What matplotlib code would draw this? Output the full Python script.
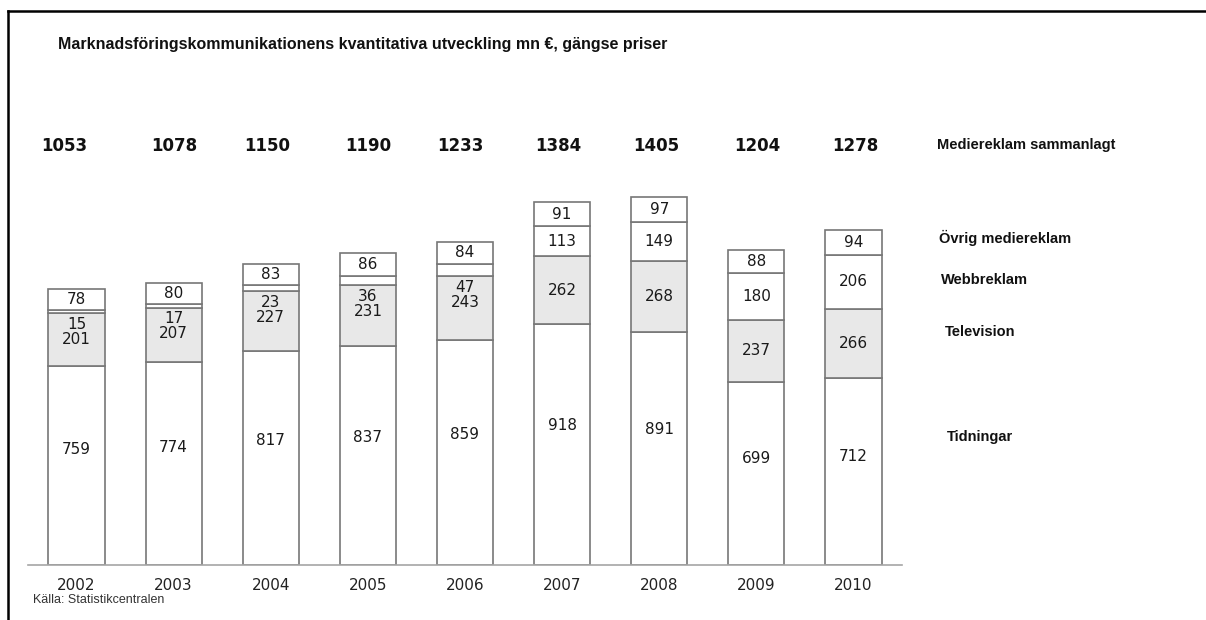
import matplotlib
matplotlib.use("Agg")
import matplotlib.pyplot as plt
import matplotlib.transforms as mtransforms
from matplotlib.lines import Line2D
import numpy as np

# data (mn EUR)
years = ["2002", "2003", "2004", "2005", "2006", "2007", "2008", "2009", "2010"]
tidningar = [759, 774, 817, 837, 859, 918, 891, 699, 712]
television = [201, 207, 227, 231, 243, 262, 268, 237, 266]
webbreklam = [15, 17, 23, 36, 47, 113, 149, 180, 206]
ovrig = [78, 80, 83, 86, 84, 91, 97, 88, 94]
totals = [1053, 1078, 1150, 1190, 1233, 1384, 1405, 1204, 1278]

series_names = ["Tidningar", "Television", "Webbreklam", "Övrig mediereklam"]
total_name = "Mediereklam sammanlagt"
title = "Marknadsföringskommunikationens kvantitativa utveckling mn €, gängse priser"
source = "Källa: Statistikcentralen"

# the totals in the original are not quite centred over the bars (pixels)
total_shift = [-12, 1, -4, 0, -5, -4, -3, 1, 2]

W, H = 1206, 620
fig = plt.figure(figsize=(W / 100, H / 100), dpi=100)
fig.patch.set_facecolor("white")

# axes placed in pixel terms: baseline at y=565, x from 28 to 902
ax = fig.add_axes([28 / W, 55 / H, 874 / W, 554 / H])
ymax = 554 / 0.262
ax.set_xlim(-0.5, len(years) - 0.5)
ax.set_ylim(0, ymax)

x = np.arange(len(years))
edge = "#777777"
bw = 0.58
tid = np.array(tidningar)
tv = np.array(television)
web = np.array(webbreklam)
ov = np.array(ovrig)

ax.bar(x, tid, bw, color="white", edgecolor=edge, linewidth=1.2)
ax.bar(x, tv, bw, bottom=tid, color="#e8e8e8", edgecolor=edge, linewidth=1.2)
ax.bar(x, web, bw, bottom=tid + tv, color="white", edgecolor=edge, linewidth=1.2)
ax.bar(x, ov, bw, bottom=tid + tv + web, color="white", edgecolor=edge, linewidth=1.2)

num_font = dict(family="DejaVu Sans", fontsize=11, color="#1a1a1a", ha="center", va="center")
px = 1 / 0.262  # data units per pixel

for i in range(len(years)):
    ax.text(x[i], tid[i] * 0.58, str(tid[i]), **num_font)
    top_tv = tid[i] + tv[i]
    if web[i] < 60:
        # small web share: both numbers stacked at top of tv block
        ax.text(x[i], top_tv - 11 * px, str(web[i]), **num_font)
        ax.text(x[i], top_tv - 26 * px, str(tv[i]), **num_font)
    else:
        ax.text(x[i], tid[i] + tv[i] / 2, str(tv[i]), **num_font)
        ax.text(x[i], top_tv + web[i] / 2, str(web[i]), **num_font)
    ax.text(x[i], top_tv + web[i] + ov[i] / 2, str(ov[i]), **num_font)

# totals row above bars
trans = mtransforms.blended_transform_factory(ax.transData, fig.transFigure)
xunit = 874 / len(years)  # pixels per category
for i, t in enumerate(totals):
    ax.text(x[i] + total_shift[i] / xunit, 1 - 146 / H, str(t), transform=trans,
            family="DejaVu Sans", fontsize=12, fontweight="bold", ha="center",
            va="center", color="#111111")

for s in ["top", "right", "left"]:
    ax.spines[s].set_visible(False)
ax.spines["bottom"].set_color("#a6a6a6")
ax.spines["bottom"].set_linewidth(1.2)
ax.set_yticks([])
ax.set_xticks(x)
ax.set_xticklabels(years, family="DejaVu Sans", fontsize=11, color="#222222")
ax.tick_params(axis="x", length=0, pad=9)

# labels at the right
lab_font = dict(family="Liberation Sans", fontsize=10.5, fontweight="bold", color="#111111",
                va="center", ha="left")
fig.text(937 / W, 1 - 145 / H, total_name, **lab_font)
fig.text(939 / W, 1 - 238 / H, series_names[3], **lab_font)
fig.text(941 / W, 1 - 280 / H, series_names[2], **lab_font)
fig.text(945 / W, 1 - 332 / H, series_names[1], **lab_font)
fig.text(947 / W, 1 - 437 / H, series_names[0], **lab_font)

fig.text(58 / W, 1 - 45 / H, title, family="Liberation Sans", fontsize=11.5,
         fontweight="bold", color="#111111", va="center", ha="left")
fig.text(33 / W, 1 - 600 / H, source, family="Liberation Sans", fontsize=9,
         color="#333333", va="center", ha="left")

# frame lines at top and left
fig.add_artist(Line2D([8 / W, 1], [1 - 11 / H, 1 - 11 / H], color="black", linewidth=1.8))
fig.add_artist(Line2D([8 / W, 8 / W], [0, 1 - 11 / H], color="black", linewidth=1.8))

fig.savefig("out.png", dpi=100)
